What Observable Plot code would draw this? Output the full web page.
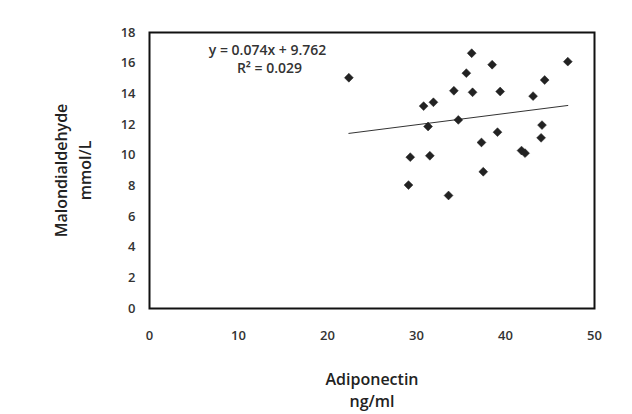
<!DOCTYPE html>
<html>
<head>
<meta charset="utf-8">
<script src="https://cdn.jsdelivr.net/npm/d3@7"></script>
<script src="https://cdn.jsdelivr.net/npm/@observablehq/plot@0.6"></script>
<style>
  html, body { margin: 0; padding: 0; background: #fff; }
  #chart svg { display: block; }
</style>
</head>
<body>
<div id="chart"></div>
<script>
// Adiponectin (ng/ml) values
const adiponectin = [22.4, 36.2, 38.5, 47.0, 35.6, 44.4, 34.2, 36.3, 39.4, 43.1,
                     30.8, 31.9, 34.7, 31.3, 44.1, 39.1, 44.0, 37.3, 41.8, 42.2,
                     29.3, 31.5, 37.5, 29.1, 33.6];
// Malondialdehyde (mmol/L) values
const malondialdehyde = [15.05, 16.65, 15.9, 16.1, 15.35, 14.9, 14.2, 14.1, 14.15, 13.85,
                         13.2, 13.45, 12.3, 11.87, 11.96, 11.5, 11.13, 10.83, 10.3, 10.13,
                         9.87, 9.96, 8.92, 8.05, 7.37];
const slope = 0.074;
const intercept = 9.762;
const rSquared = 0.029;
const xTicks = [0, 10, 20, 30, 40, 50];
const yTicks = [0, 2, 4, 6, 8, 10, 12, 14, 16, 18];

const points = adiponectin.map((x, i) => ({x, y: malondialdehyde[i]}));
const xExt = d3.extent(adiponectin);
const trend = xExt.map(x => ({x, y: slope * x + intercept}));

const font = "'Open Sans', 'Liberation Sans', sans-serif";

const chart = Plot.plot({
  width: 632,
  height: 414,
  marginLeft: 149,
  marginRight: 38,
  marginTop: 32,
  marginBottom: 106,
  style: {fontFamily: font, fontSize: "13px", color: "#222", background: "#fff"},
  x: {domain: [0, 50]},
  y: {domain: [0, 18]},
  marks: [
    Plot.axisX({ticks: xTicks, tickSize: 0, tickPadding: 22, label: null, fontWeight: 600, fill: "#333", fontSize: 13}),
    Plot.axisY({ticks: yTicks, tickSize: 0, tickPadding: 14, label: null, fontWeight: 600, fill: "#333", fontSize: 13}),
    Plot.frame({stroke: "#111", strokeWidth: 2}),
    Plot.line(trend, {x: "x", y: "y", stroke: "#333", strokeWidth: 1}),
    Plot.dot(points, {x: "x", y: "y", symbol: "diamond2", r: 4, fill: "#222", stroke: "#222", strokeWidth: 0.5}),
    Plot.text([`y = ${slope}x + ${intercept}`], {frameAnchor: "top-left", dx: 118, dy: 18, textAnchor: "middle", lineAnchor: "middle", fontWeight: 600, fill: "#333", fontSize: 14}),
    Plot.text([`R² = ${rSquared}`], {frameAnchor: "top-left", dx: 120, dy: 36, textAnchor: "middle", lineAnchor: "middle", fontWeight: 600, fill: "#333", fontSize: 14}),
    Plot.text(["Adiponectin"], {frameAnchor: "bottom", dy: 71, textAnchor: "middle", lineAnchor: "middle", fontWeight: 600, fill: "#222", fontSize: 16}),
    Plot.text(["ng/ml"], {frameAnchor: "bottom", dy: 93, textAnchor: "middle", lineAnchor: "middle", fontWeight: 600, fill: "#222", fontSize: 16}),
    Plot.text(["Malondialdehyde"], {frameAnchor: "left", dx: -88, rotate: -90, textAnchor: "middle", lineAnchor: "middle", fontWeight: 600, fill: "#222", fontSize: 16}),
    Plot.text(["mmol/L"], {frameAnchor: "left", dx: -64, rotate: -90, textAnchor: "middle", lineAnchor: "middle", fontWeight: 600, fill: "#222", fontSize: 16})
  ]
});
document.getElementById("chart").appendChild(chart);
</script>
</body>
</html>
